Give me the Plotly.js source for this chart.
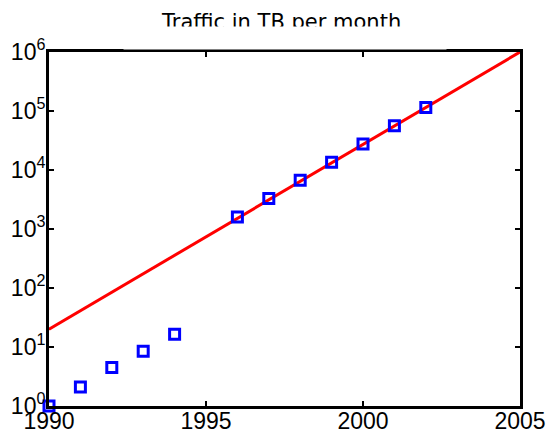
<!DOCTYPE html>
<html>
<head>
<script src="https://cdn.plot.ly/plotly-3.0.1.min.js"></script>
<style>html,body{margin:0;padding:0;background:#fff;}</style>
</head>
<body>
<div id="chart" style="width:550px;height:434px;"></div>
<script>
// Measured traffic (TB per month)
const years = [1990, 1991, 1992, 1993, 1994, 1996, 1997, 1998, 1999, 2000, 2001, 2002];
const traffic = [1.0, 2.1, 4.5, 8.5, 16.5, 1600, 3300, 6700, 13500, 27500, 56000, 115000];
// Trend line (fit)
const fitYears = [1990, 2005];
const fitTraffic = [20, 1000000];
const xTicks = [1990, 1995, 2000, 2005];
const yTicks = [1, 10, 100, 1000, 10000, 100000, 1000000];
const yTickText = ['10<sup>0</sup>', '10<sup>1</sup>', '10<sup>2</sup>', '10<sup>3</sup>', '10<sup>4</sup>', '10<sup>5</sup>', '10<sup>6</sup>'];
const titleText = 'Traffic in TB per month';

const data = [
  {x: fitYears, y: fitTraffic, mode: 'lines', type: 'scatter',
   line: {color: '#ff0000', width: 3}, hoverinfo: 'skip'},
  {x: years, y: traffic, mode: 'markers', type: 'scatter',
   marker: {symbol: 'square-open', size: 10, color: '#0000ff', line: {width: 3, color: '#0000ff'}},
   cliponaxis: false}
];

const axisCommon = {
  showgrid: false, zeroline: false, showline: true, linecolor: '#000', linewidth: 3,
  mirror: 'ticks', ticks: 'inside', ticklen: 5, tickwidth: 2, tickcolor: '#000',
  tickfont: {family: 'Liberation Sans, Arial, sans-serif', size: 23, color: '#000'}
};

const layout = {
  width: 550, height: 434,
  margin: {l: 49, r: 30, t: 52, b: 28},
  paper_bgcolor: '#fff', plot_bgcolor: '#fff',
  showlegend: false,
  xaxis: Object.assign({}, axisCommon, {
    range: [1990, 2005], tickmode: 'array', tickvals: xTicks, ticktext: xTicks.map(String),
    ticklabelstandoff: -8
  }),
  yaxis: Object.assign({}, axisCommon, {
    type: 'log', range: [0, 6], tickmode: 'array', tickvals: yTicks, ticktext: yTickText,
    ticklabelstandoff: -4
  }),
  annotations: [
    {text: titleText, xref: 'paper', yref: 'paper', x: 0.5, y: 1.0, yshift: 30, xshift: -4,
     xanchor: 'center', yanchor: 'middle', showarrow: false,
     font: {family: 'DejaVu Sans, sans-serif', size: 21, color: '#000'}},
    {text: ' ', xref: 'paper', yref: 'paper', x: 0.5, y: 1.0, yshift: 14,
     xanchor: 'center', yanchor: 'middle', showarrow: false, width: 320, height: 20,
     bgcolor: '#fff'}
  ]
};

Plotly.newPlot('chart', data, layout, {staticPlot: true, displayModeBar: false});
</script>
</body>
</html>
